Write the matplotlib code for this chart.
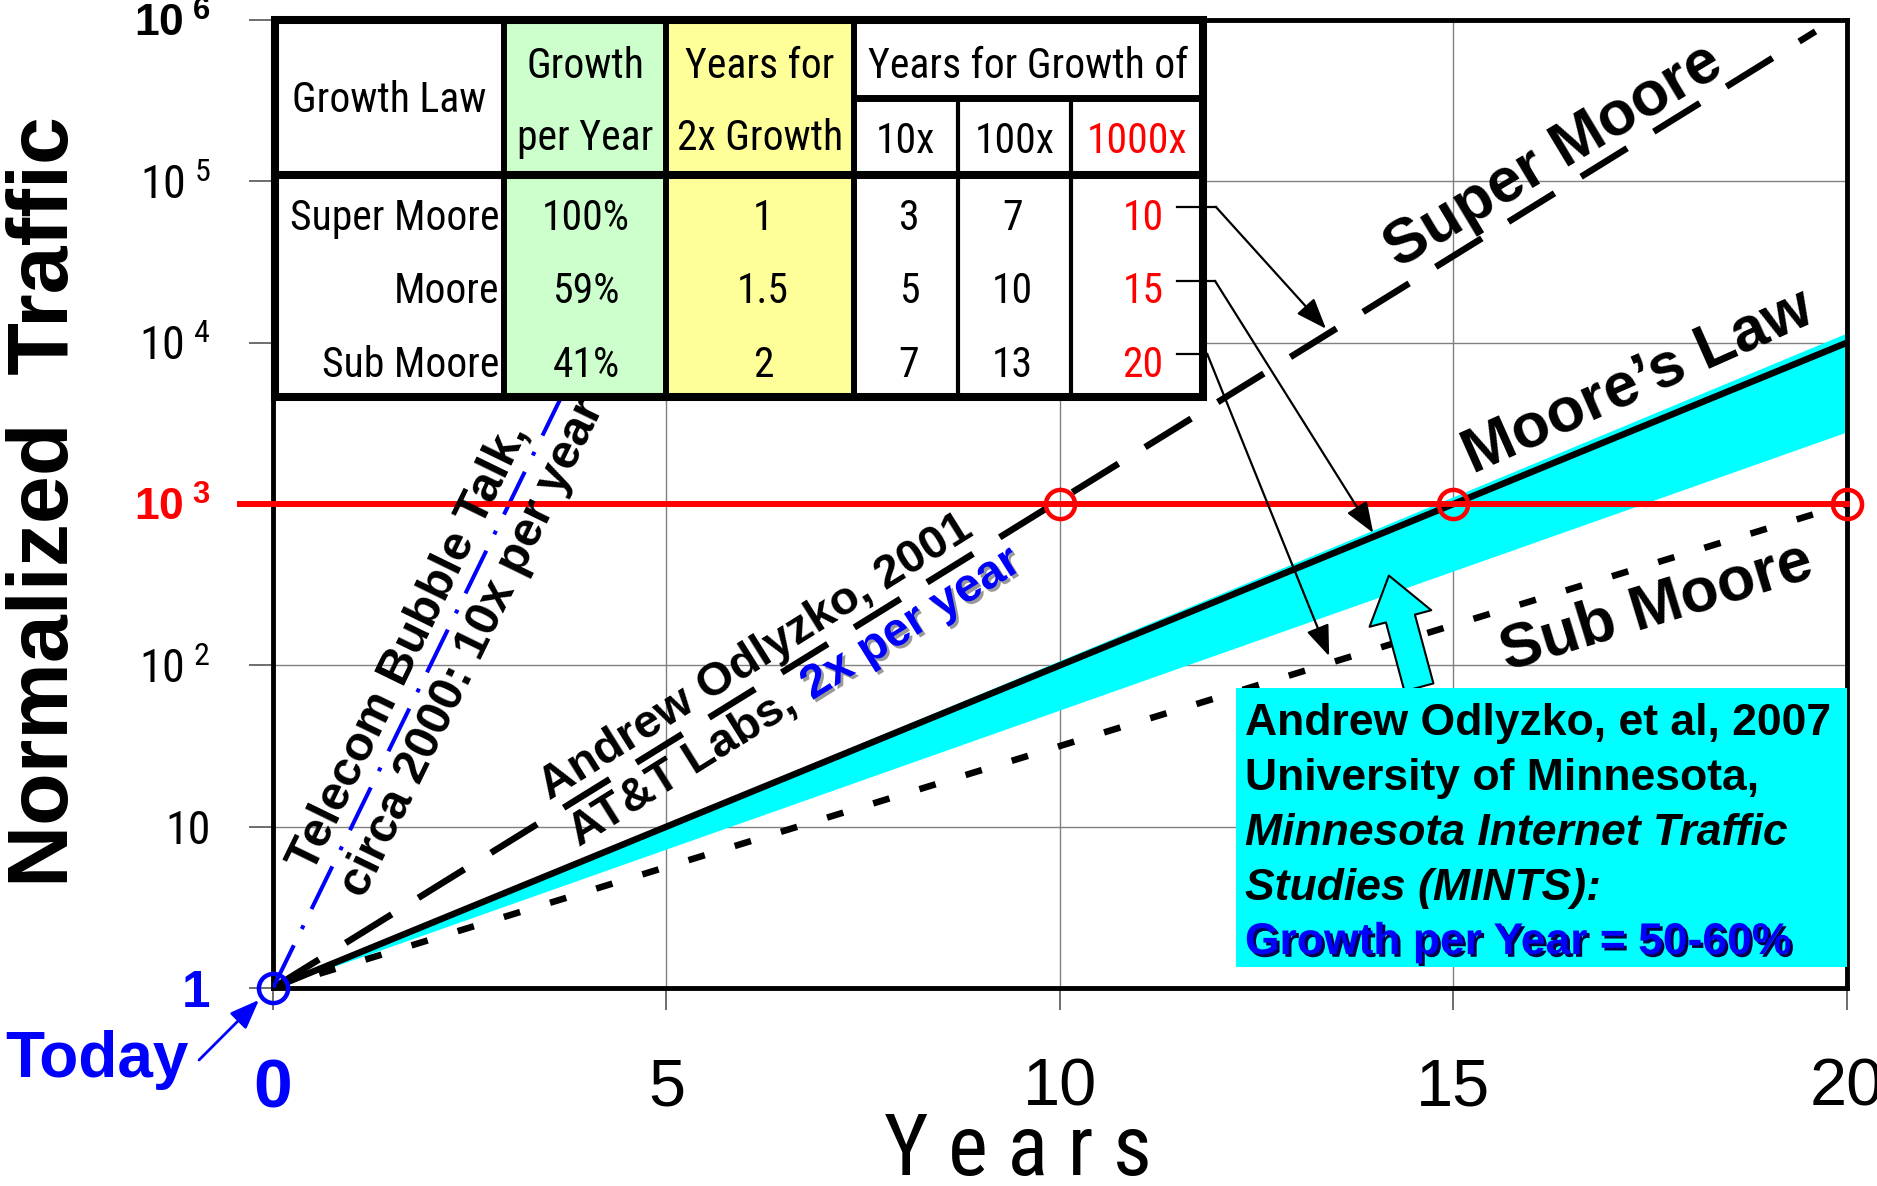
import matplotlib
matplotlib.use('Agg')
import matplotlib.pyplot as plt
import matplotlib.patheffects as pe
from matplotlib import font_manager as fm
from matplotlib.patches import Rectangle, FancyArrowPatch, ArrowStyle
from matplotlib.ticker import NullLocator

plt.rcParams['font.family'] = ['Liberation Sans', 'DejaVu Sans']
plt.rcParams['mathtext.default'] = 'regular'

# narrow face for the table / tick text, if one is installed
_names = {f.name for f in fm.fontManager.ttflist}
NARROW, STRETCH, SHRINK = 'Liberation Sans', 'normal', 0.84
for cand in ['Liberation Sans Narrow', 'Arial Narrow', 'Nimbus Sans Narrow', 'Roboto Condensed',
             'Noto Sans Condensed', 'Open Sans Condensed', 'DejaVu Sans Condensed']:
    if cand in _names:
        NARROW, SHRINK = cand, 1.0
        break

# ---- values ----
years = [0, 20]
super_years = [0, 19.6]
super_moore = [1, 8.5e5]
moore = [1, 1.0e4]
sub_moore = [1, 1.0e3]
mints_high = [1, 1.15e4]
mints_low = [1, 2.8e3]
bubble_years = [0, 6]
bubble = [1, 1.0e6]
target_line_years = [-0.42, 20]
target_years = [10, 15, 20]
target_level = 1.0e3

table_laws = ['Super Moore', 'Moore', 'Sub Moore']
table_growth = ['100%', '59%', '41%']
table_double = ['1', '1.5', '2']
table_10x = ['3', '5', '7']
table_100x = ['7', '10', '13']
table_1000x = ['10', '15', '20']

x_ticks = [0, 5, 10, 15, 20]
x_labels = ['0', '5', '10', '15', '20']
y_ticks = [1, 10, 1e2, 1e3, 1e4, 1e5, 1e6]
y_labels = ['1', '10', r'$10^{\;2}$', r'$10^{\;3}$', r'$10^{\;4}$', r'$10^{\;5}$', r'$10^{\;6}$']

# arrows from the "1000x" column to the lines: (start, knee, tip) in years / traffic
pointer_arrows = [
    ((11.49, 6.95e4), (11.98, 6.95e4), (13.38, 1.22e4)),
    ((11.49, 2.415e4), (11.97, 2.415e4), (13.98, 662)),
    ((11.49, 8.53e3), (11.87, 8.53e3), (13.42, 114)),
]

CYAN = '#00FFFF'
BLUE = '#0000FF'
RED = '#FF0000'
nar = dict(family=[NARROW, 'Liberation Sans'], fontstretch=STRETCH)

fig = plt.figure(figsize=(18.77, 11.86), dpi=100)
ax = fig.add_axes([0.14544, 0.16695, 0.83857, 0.81619])
ax.set_yscale('log')
ax.set_xlim(0, 20)
ax.set_ylim(1, 1e6)
ax.yaxis.set_minor_locator(NullLocator())
ax.set_axisbelow(True)
ax.grid(True, color='#808080', lw=1.0)
for s in ax.spines.values():
    s.set_linewidth(3.5)

# growth curves
ax.fill_between(years, mints_low, mints_high, color=CYAN, lw=0, zorder=1)
ax.plot(years, sub_moore, color='k', lw=4.7, dashes=(2.6, 4.8), zorder=3)
ax.plot(years, moore, color='k', lw=4.7, zorder=3)
ax.plot(super_years, super_moore, color='k', lw=4.7, dashes=(8.3, 4.8), zorder=3)
ax.plot(bubble_years, bubble, color=BLUE, lw=2.9, dashes=(11.8, 4.5, 1, 4.5), zorder=3)
ax.plot(target_line_years, [target_level] * 2, color=RED, lw=4.3, clip_on=False, zorder=4)
ax.plot(target_years, [target_level] * 3, 'o', mfc='none', mec=RED, ms=21, mew=3.2,
        clip_on=False, zorder=5)
ax.plot([years[0]], [moore[0]], 'o', mfc='none', mec=BLUE, ms=21, mew=3.2,
        clip_on=False, zorder=5)

# ticks
ax.set_xticks(x_ticks)
ax.set_xticklabels(x_labels, fontsize=48)
ax.set_yticks(y_ticks)
ax.set_yticklabels(y_labels, fontsize=33 * SHRINK, **nar)
ax.tick_params(axis='x', length=16, width=1.2, color='#555555', pad=34)
ax.tick_params(axis='y', length=17, width=1.2, color='#555555', pad=28)
xl = ax.get_xticklabels()
xl[0].set_color(BLUE)
xl[0].set_fontweight('bold')
xl[0].set_fontsize(50)
yl = ax.get_yticklabels()
yl[0].set_color(BLUE)
yl[0].set_fontweight('bold')
yl[0].set_fontsize(37)
yl[0].set_family(['Liberation Sans'])
for k in (3, 6):
    yl[k].set_family(['Liberation Sans'])
    yl[k].set_fontweight('bold')
    yl[k].set_fontsize(32)
yl[3].set_color(RED)

ax.text(0.473, -0.193, 'Y e a r s', transform=ax.transAxes, ha='center', va='baseline',
        fontsize=60 * (SHRINK + 0.02), **nar)
ax.text(-0.144, 0.503, 'Normalized  Traffic', transform=ax.transAxes, rotation=90,
        ha='center', va='center', fontsize=62, fontweight='bold')

# "Today"
ax.text(-0.1118, -0.0919, 'Today', transform=ax.transAxes, ha='center', va='baseline',
        fontsize=46, fontweight='bold', color=BLUE, clip_on=False)
ax.annotate('', xy=(-0.178, 0.843), xycoords='data', xytext=(-0.047, -0.0744),
            textcoords='axes fraction', annotation_clip=False,
            arrowprops=dict(arrowstyle='-|>,head_length=0.9,head_width=0.35',
                            mutation_scale=20, color=BLUE, lw=2, shrinkA=0, shrinkB=0))

# ---- table ----
col_edges = [0.001, 0.147, 0.250, 0.369, 0.435, 0.507, 0.591]
row_top, row_sub, row_head, row_bot = 1.0, 0.919, 0.840, 0.611
fills = ['white', '#CCFFCC', '#FFFF99', 'white', 'white', 'white']
for i, fc in enumerate(fills):
    ax.add_patch(Rectangle((col_edges[i], row_bot), col_edges[i + 1] - col_edges[i],
                           row_top - row_bot, transform=ax.transAxes, fc=fc, ec='none',
                           zorder=10, clip_on=False))
tl = dict(transform=ax.transAxes, color='k', clip_on=False, zorder=11,
          solid_capstyle='projecting')
ax.plot([col_edges[0], col_edges[-1]], [row_head, row_head], lw=5.8, **tl)
ax.plot([col_edges[3], col_edges[-1]], [row_sub, row_sub], lw=5.0, **tl)
for c in col_edges[1:4]:
    ax.plot([c, c], [row_bot, row_top], lw=4.3, **tl)
for c in col_edges[4:6]:
    ax.plot([c, c], [row_bot, row_sub], lw=3.0, **tl)
ax.add_patch(Rectangle((col_edges[0], row_bot), col_edges[-1] - col_edges[0], row_top - row_bot,
                       transform=ax.transAxes, fill=False, ec='k', lw=5.8, zorder=11,
                       clip_on=False))

tt = dict(transform=ax.transAxes, fontsize=30 * SHRINK, va='baseline', zorder=12, **nar)
mid = [(col_edges[i] + col_edges[i + 1]) / 2 for i in range(6)]
ax.text(mid[0], 0.905, 'Growth Law', ha='center', **tt)
ax.text(mid[1], 0.9401, 'Growth', ha='center', **tt)
ax.text(mid[1], 0.8657, 'per Year', ha='center', **tt)
ax.text(mid[2], 0.9401, 'Years for', ha='center', **tt)
ax.text(mid[2], 0.8657, '2x Growth', ha='center', **tt)
ax.text((col_edges[3] + col_edges[6]) / 2, 0.9401, 'Years for Growth of', ha='center', **tt)
ax.text(mid[3], 0.8626, '10x', ha='center', **tt)
ax.text(mid[4], 0.8626, '100x', ha='center', **tt)
ax.text(mid[5], 0.8626, '1000x', ha='center', color=RED, **tt)
row_base = [0.7831, 0.7076, 0.6312]
for r, yb in enumerate(row_base):
    ax.text(0.1436, yb, table_laws[r], ha='right', **tt)
    ax.text(0.1989, yb, table_growth[r], ha='center', **tt)
    ax.text(0.3113, yb, table_double[r], ha='center', **tt)
    ax.text(0.404, yb, table_10x[r], ha='center', **tt)
    ax.text(0.470, yb, table_100x[r], ha='center', **tt)
    ax.text(0.5527, yb, table_1000x[r], ha='center', color=RED, **tt)

for start, knee, tip in pointer_arrows:
    ax.plot([start[0], knee[0]], [start[1], knee[1]], color='k', lw=1.6, zorder=13,
            clip_on=False)
    ax.annotate('', xy=tip, xytext=knee, zorder=13,
                arrowprops=dict(arrowstyle='-|>,head_length=0.95,head_width=0.36',
                                mutation_scale=20, color='k', lw=1.6, shrinkA=0, shrinkB=0))

# ---- line labels ----
lab = dict(fontweight='bold', rotation_mode='anchor', va='baseline', zorder=9)
ax.text(16.38, 10 ** 5.07, 'Super Moore', rotation=31, ha='center', fontsize=45, **lab)
ax.text(17.43, 10 ** 3.664, 'Moore\u2019s Law', rotation=24, ha='center', fontsize=45, **lab)
ax.text(17.64, 10 ** 2.263, 'Sub Moore', rotation=17, ha='center', fontsize=45, **lab)

ax.text(0.50, 5.10, 'Telecom Bubble Talk,', rotation=64, ha='left', fontsize=35, **lab)
ax.text(1.16, 3.53, 'circa 2000: 10x per year', rotation=64, ha='left', fontsize=35, **lab)

ax.text(3.52, 14.6, 'Andrew Odlyzko, 2001', rotation=32, ha='left', fontsize=34, **lab)
ax.text(3.888, 7.48, 'AT&T Labs,', rotation=32, ha='left', fontsize=34, **lab)
ax.text(6.85, 60.5, '2x per year', rotation=32, ha='left', fontsize=34, color=BLUE,
        path_effects=[pe.SimplePatchShadow(offset=(2, -2), shadow_rgbFace='#999999', alpha=1),
                      pe.Normal()], **lab)

# ---- MINTS box ----
ax.add_patch(FancyArrowPatch((14.57, 70.3), (14.17, 374),
                             arrowstyle=ArrowStyle.Simple(head_length=32, head_width=46,
                                                          tail_width=21.6),
                             mutation_scale=1, fc=CYAN, ec='k', lw=1.5, zorder=7))
ax.add_patch(Rectangle((0.6118, 0.0217), 1 - 0.6118, 0.3099 - 0.0217, transform=ax.transAxes,
                       fc=CYAN, ec='none', zorder=8))
bx = dict(transform=ax.transAxes, fontsize=32, fontweight='bold', ha='left', va='baseline',
          zorder=9)
ax.text(0.6175, 0.2614, 'Andrew Odlyzko, et al, 2007', **bx)
ax.text(0.6175, 0.2045, 'University of Minnesota,', **bx)
ax.text(0.6175, 0.1477, 'Minnesota Internet Traffic', style='italic', **bx)
ax.text(0.6175, 0.0909, 'Studies (MINTS):', style='italic', **bx)
ax.text(0.6175, 0.0351, 'Growth per Year = 50-60%', color=BLUE,
        path_effects=[pe.SimplePatchShadow(offset=(2, -2), shadow_rgbFace='#000044', alpha=1),
                      pe.Normal()], **bx)

fig.savefig('out.png', dpi=100)
